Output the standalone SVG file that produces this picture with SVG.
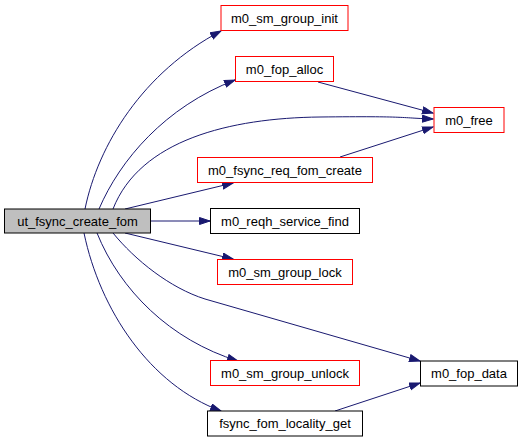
<svg xmlns="http://www.w3.org/2000/svg" width="524" height="443" viewBox="0 0 524 443">
<style>
.n rect{fill:#fff;stroke:#000;stroke-width:1}
.n.r rect{stroke:#ff0000}
.n.m rect{fill:#bfbfbf}
text{font-family:"Liberation Sans",Arial,sans-serif;font-size:13px;text-anchor:middle;fill:#000}
.e path{fill:none;stroke:#191970;stroke-width:1}
</style>
<defs>
<marker id="a" markerUnits="userSpaceOnUse" markerWidth="12" markerHeight="9" refX="11" refY="4" orient="auto" viewBox="0 0 12 9">
<path d="M0.5,0.5 L11,4 L0.5,7.5 z" fill="#191970" stroke="#191970"/>
</marker>
</defs>
<rect width="524" height="443" fill="#fff"/>
<g class="e">
<path marker-end="url(#a)" d="M85,209 C98,145 143,72 221,31"/>
<path marker-end="url(#a)" d="M99,209 C120,160 165,107 235,80"/>
<path marker-end="url(#a)" d="M113,209 C140,140 230,118 320,117 S400,118 433,119"/>
<path marker-end="url(#a)" d="M318,82 L433,113"/>
<path marker-end="url(#a)" d="M340,157 L433,127"/>
<path marker-end="url(#a)" d="M125,209 L233,183"/>
<path marker-end="url(#a)" d="M151,221 L210,221"/>
<path marker-end="url(#a)" d="M125,233 L233,259"/>
<path marker-end="url(#a)" d="M113,233 C135,260 170,288 205,299 L420,361"/>
<path marker-end="url(#a)" d="M97,233 C120,290 170,340 238,361"/>
<path marker-end="url(#a)" d="M84,233 C100,310 150,385 221,411"/>
<path marker-end="url(#a)" d="M335,411 L420,383"/>
</g>
<g id="ut_fsync_create_fom" class="n m"><rect x="4.5" y="209" width="146" height="24"/><text x="77.5" y="225.5">ut_fsync_create_fom</text></g>
<g id="m0_sm_group_init" class="n r"><rect x="221" y="5.5" width="127" height="25"/><text x="284.5" y="22.5">m0_sm_group_init</text></g>
<g id="m0_fop_alloc" class="n r"><rect x="235.5" y="56.5" width="98" height="25"/><text x="284.5" y="73.5">m0_fop_alloc</text></g>
<g id="m0_free" class="n r"><rect x="434" y="107.5" width="70" height="25"/><text x="469" y="124.5">m0_free</text></g>
<g id="m0_fsync_req_fom_create" class="n r"><rect x="197.5" y="157.5" width="175" height="25"/><text x="285" y="174.5">m0_fsync_req_fom_create</text></g>
<g id="m0_reqh_service_find" class="n"><rect x="210.5" y="208.5" width="149" height="25"/><text x="285" y="225.5">m0_reqh_service_find</text></g>
<g id="m0_sm_group_lock" class="n r"><rect x="217.5" y="259.5" width="135" height="25"/><text x="285" y="276.5">m0_sm_group_lock</text></g>
<g id="m0_sm_group_unlock" class="n r"><rect x="210.5" y="360.5" width="149" height="25"/><text x="285" y="377.5">m0_sm_group_unlock</text></g>
<g id="fsync_fom_locality_get" class="n"><rect x="207.5" y="411" width="155" height="25"/><text x="285" y="428">fsync_fom_locality_get</text></g>
<g id="m0_fop_data" class="n"><rect x="420.5" y="361" width="97" height="25"/><text x="469" y="378">m0_fop_data</text></g>
</svg>
